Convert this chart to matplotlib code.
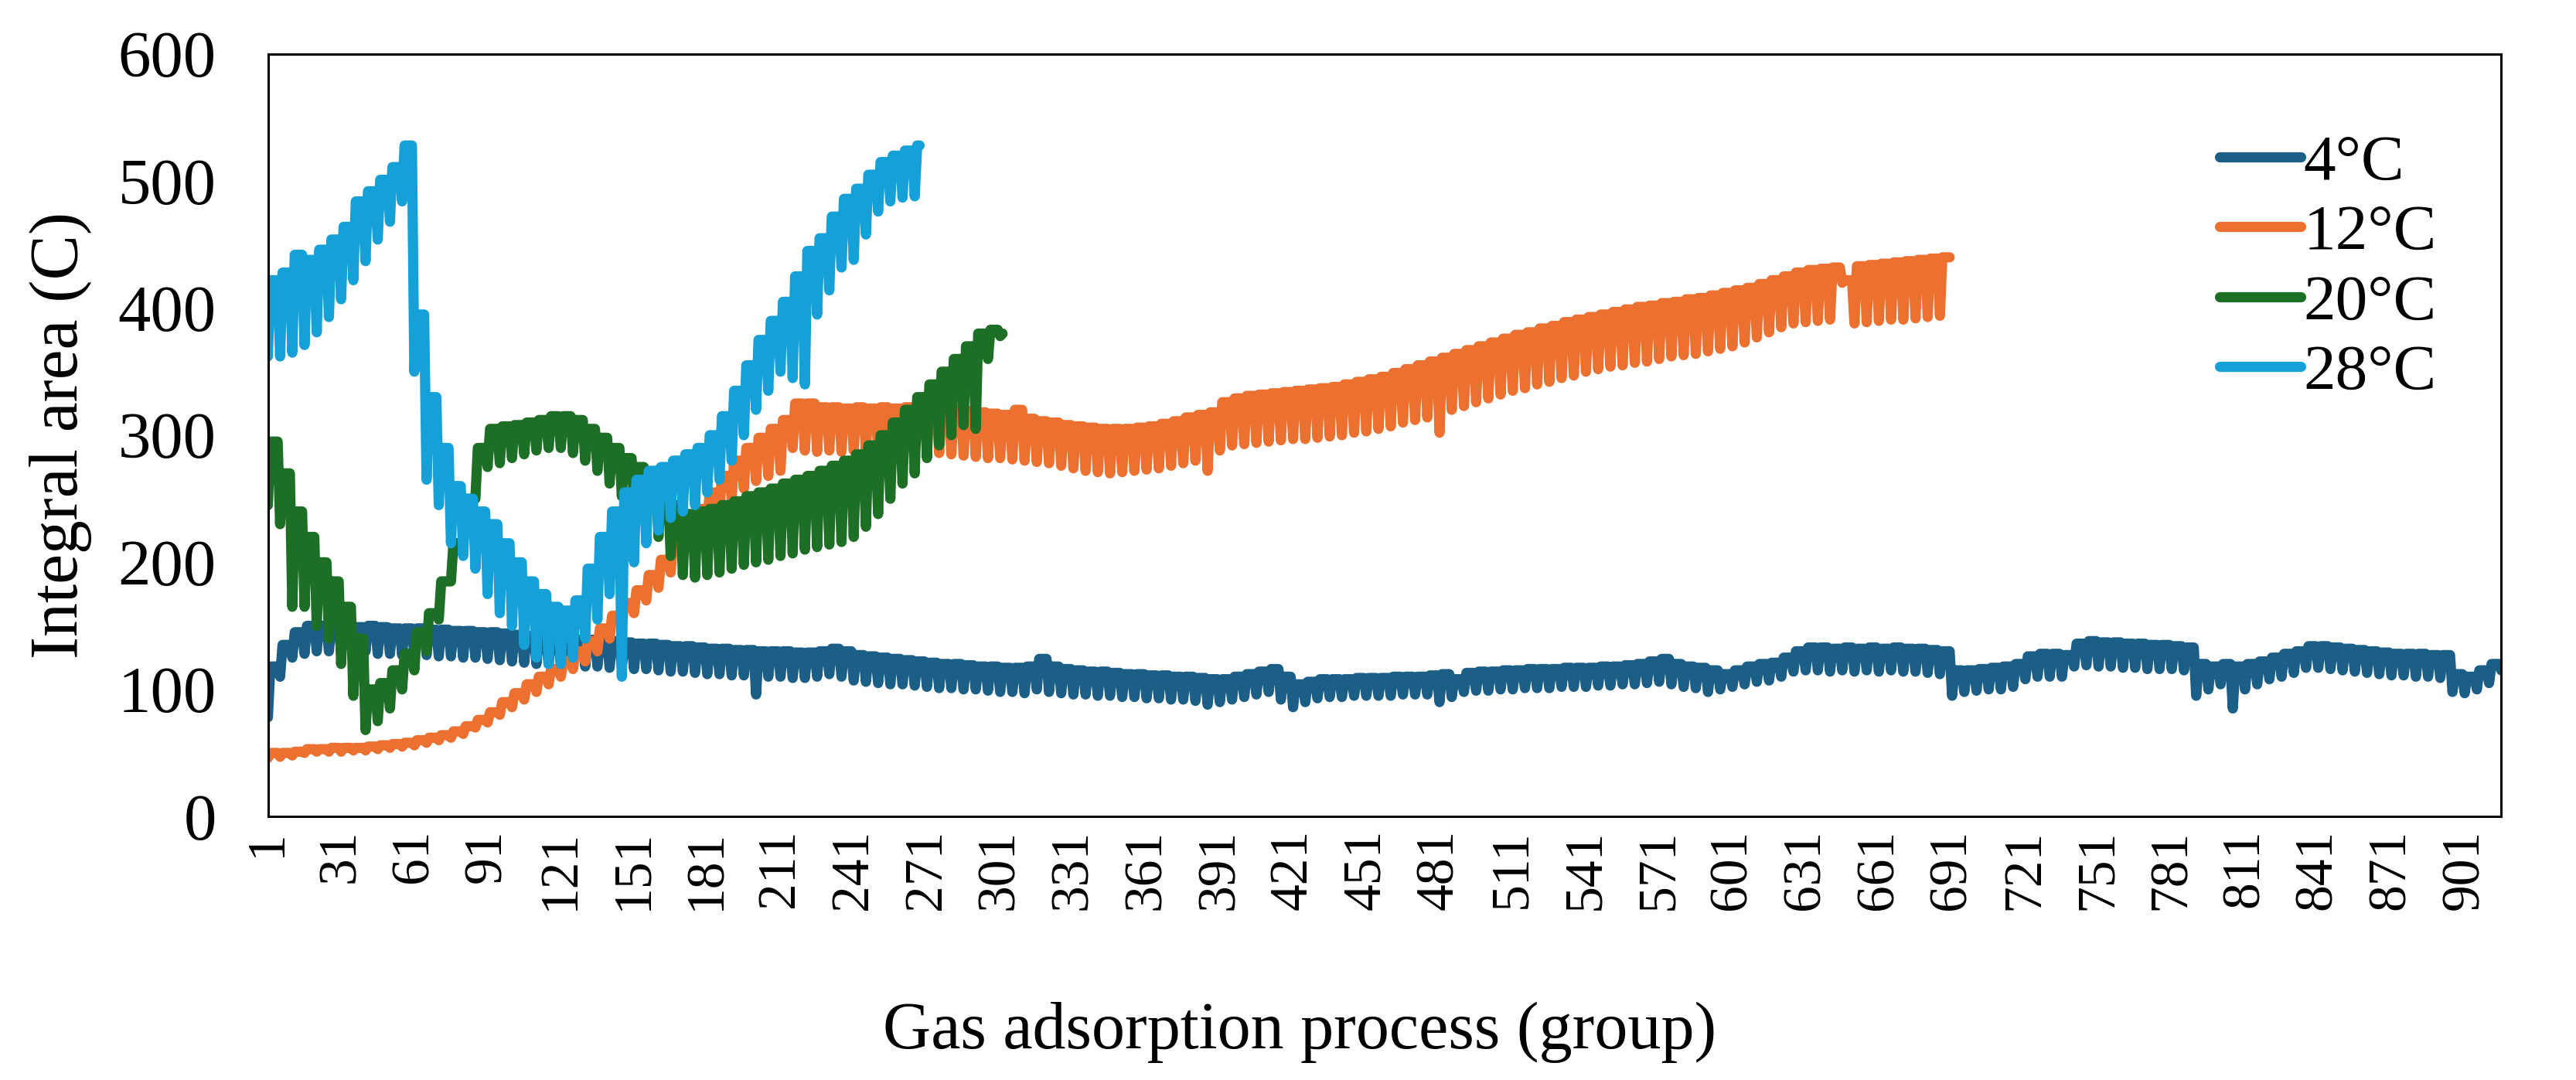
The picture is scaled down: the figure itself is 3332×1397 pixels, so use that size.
import numpy as np
import matplotlib
matplotlib.use("Agg")
import matplotlib.pyplot as plt

plt.rcParams['font.family'] = ['Liberation Serif', 'DejaVu Serif']

series_labels = ["4°C", "12°C", "20°C", "28°C"]
series_colors = ["#1B5E86", "#EC7030", "#1E6F26", "#15A0D8"]
n_groups = [916, 690, 302, 268]
points_per_cycle = 5

# ---- per-cycle peak (top) and trough (bottom) values ----
c4_top = [118, 135, 145, 150, 150, 150, 150, 149, 150, 149, 148, 148,
          148, 147, 147, 146, 146, 145, 145, 144, 143, 142, 141, 140,
          140, 139, 139, 138, 138, 137, 136, 136, 135, 134, 134, 133,
          132, 132, 131, 131, 130, 130, 130, 129, 129, 130, 132, 130,
          127, 126, 125, 124, 123, 122, 121, 120, 120, 119, 118, 118,
          117, 117, 118, 124, 118, 116, 115, 114, 114, 113, 112, 112,
          111, 111, 110, 110, 109, 108, 108, 110, 112, 114, 116, 110,
          104, 106, 108, 108, 108, 109, 109, 109, 110, 110, 110, 111,
          112, 108, 113, 114, 114, 115, 115, 116, 116, 116, 117, 117,
          117, 118, 118, 119, 120, 122, 124, 120, 118, 117, 115, 112,
          115, 118, 120, 121, 125, 130, 133, 133, 132, 133, 132, 133,
          132, 133, 132, 132, 131, 130, 115, 115, 116, 117, 118, 120,
          126, 128, 128, 127, 136, 138, 137, 137, 136, 136, 135, 135,
          134, 133, 120, 118, 120, 118, 120, 122, 125, 128, 130, 134,
          134, 133, 132, 131, 130, 129, 128, 128, 128, 127, 127, 112,
          110, 115, 120, 130]
c4_bot = [78, 110, 125, 128, 130, 130, 130, 129, 130, 128, 128, 127,
          127, 127, 126, 126, 125, 125, 124, 123, 122, 121, 120, 120,
          119, 119, 118, 118, 117, 117, 116, 116, 115, 114, 114, 113,
          112, 112, 111, 111, 96, 110, 110, 109, 109, 110, 112, 110,
          107, 106, 105, 104, 104, 103, 102, 101, 101, 100, 100, 99,
          98, 98, 97, 100, 98, 97, 96, 96, 95, 95, 94, 94,
          93, 93, 92, 92, 91, 88, 90, 92, 94, 96, 98, 92,
          86, 90, 93, 94, 94, 95, 95, 95, 95, 96, 96, 96,
          90, 94, 98, 99, 99, 100, 100, 101, 101, 101, 102, 102,
          102, 103, 103, 104, 104, 105, 106, 104, 102, 101, 98, 100,
          102, 104, 106, 107, 110, 114, 115, 115, 114, 115, 114, 115,
          114, 115, 114, 114, 113, 112, 95, 98, 99, 100, 100, 102,
          108, 110, 110, 110, 118, 119, 118, 118, 117, 117, 116, 116,
          116, 115, 95, 100, 104, 85, 100, 104, 108, 110, 113, 117,
          117, 116, 115, 114, 113, 112, 111, 111, 110, 110, 109, 98,
          97, 100, 105, 115]

c12_top = [50, 50, 51, 53, 53, 54, 54, 54, 55, 56, 57, 58,
           60, 62, 64, 67, 71, 76, 82, 90, 97, 104, 110, 116,
           122, 130, 138, 148, 158, 168, 178, 190, 202, 215, 228, 242,
           255, 268, 280, 290, 298, 305, 312, 325, 325, 322, 322, 321,
           322, 321, 322, 321, 322, 321, 321, 320, 320, 319, 318, 317,
           316, 320, 313, 311, 310, 308, 307, 306, 305, 305, 305, 306,
           307, 309, 311, 314, 316, 318, 326, 329, 331, 332, 333, 334,
           335, 336, 337, 338, 340, 342, 344, 346, 349, 352, 355, 358,
           361, 364, 367, 370, 373, 376, 379, 381, 384, 386, 389, 391,
           393, 395, 397, 399, 401, 402, 404, 405, 407, 408, 410, 412,
           414, 416, 419, 422, 425, 428, 430, 431, 432, 422, 433, 434,
           435, 436, 437, 438, 439, 440]
c12_bot = [46, 47, 48, 50, 51, 51, 51, 52, 52, 53, 54, 55,
           56, 58, 60, 62, 65, 70, 74, 80, 86, 92, 98, 104,
           110, 116, 122, 130, 140, 150, 160, 170, 180, 192, 205, 218,
           230, 240, 250, 258, 264, 268, 272, 290, 288, 287, 288, 287,
           288, 287, 288, 288, 289, 287, 287, 286, 285, 284, 283, 282,
           282, 281, 280, 279, 278, 276, 274, 272, 271, 270, 271, 272,
           273, 274, 276, 278, 280, 272, 288, 292, 293, 294, 295, 296,
           297, 297, 298, 299, 300, 302, 303, 305, 307, 310, 312, 314,
           302, 320, 323, 326, 329, 332, 335, 337, 340, 342, 345, 347,
           350, 352, 354, 355, 357, 358, 360, 362, 363, 364, 366, 368,
           370, 373, 377, 381, 385, 388, 389, 390, 391, 420, 388, 389,
           390, 391, 391, 392, 393, 394]

c20_top = [295, 270, 240, 220, 200, 185, 165, 140, 100, 105, 115, 128,
           145, 160, 185, 215, 250, 290, 305, 307, 308, 310, 312, 315,
           315, 312, 305, 298, 290, 282, 275, 265, 255, 245, 238, 240,
           242, 245, 248, 252, 255, 258, 262, 265, 268, 272, 276, 280,
           285, 292, 300, 310, 320, 330, 340, 350, 360, 370, 380, 383,
           380]
c20_bot = [245, 230, 165, 165, 150, 140, 120, 95, 68, 75, 85, 100,
           115, 130, 155, 185, 215, 250, 275, 278, 282, 285, 288, 290,
           290, 286, 280, 272, 262, 252, 245, 235, 220, 205, 190, 188,
           190, 192, 195, 198, 200, 202, 205, 207, 210, 212, 214, 216,
           220, 228, 238, 250, 262, 270, 282, 292, 300, 308, 305, 360,
           378]

c28_top = [422, 428, 442, 438, 446, 454, 464, 484, 492, 501, 511, 528,
           395, 330, 290, 260, 250, 240, 230, 215, 200, 185, 175, 165,
           162, 170, 195, 220, 240, 255, 265, 272, 275, 280, 285, 290,
           300, 315, 335, 355, 375, 390, 405, 425, 445, 455, 472, 486,
           494, 505, 515, 520, 524, 528]
c28_bot = [362, 362, 365, 371, 381, 393, 407, 422, 437, 454, 468, 484,
           350, 265, 245, 215, 205, 195, 175, 160, 150, 135, 125, 120,
           120, 125, 140, 155, 175, 110, 200, 215, 225, 235, 240, 245,
           255, 265, 280, 300, 320, 335, 350, 345, 340, 395, 414, 432,
           438, 458, 476, 484, 487, 488]

x_tick_labels = [str(v) for v in range(1, 902, 30)]
y_ticks = [0, 100, 200, 300, 400, 500, 600]


def expand(tops, bots, n):
    vals = []
    for t, b in zip(tops, bots):
        vals.append(b)
        vals.extend([t] * (points_per_cycle - 1))
    return np.array(vals[:n], dtype=float)


series_tops = [c4_top, c12_top, c20_top, c28_top]
series_bots = [c4_bot, c12_bot, c20_bot, c28_bot]

LW = 9.5

fig = plt.figure(figsize=(33.32, 13.97), dpi=100)
ax = fig.add_axes([0.104, 0.244, 0.867, 0.706])

for lab, col, tops, bots, n in zip(series_labels, series_colors, series_tops,
                                   series_bots, n_groups):
    y = expand(tops, bots, n)
    x = np.arange(1, len(y) + 1)
    ax.plot(x, y, color=col, lw=LW, solid_joinstyle='round',
            solid_capstyle='round', label=lab)

ax.set_xlim(1, 916)
ax.set_ylim(0, 600)
ax.set_yticks(y_ticks)
ax.set_yticklabels([str(v) for v in y_ticks], fontsize=61)
ax.set_xticks(list(range(1, 902, 30)))
ax.set_xticklabels(x_tick_labels, rotation=90, fontsize=50)
ax.tick_params(axis='y', length=0, pad=48)
ax.tick_params(axis='x', length=0, pad=12)
for s in ax.spines.values():
    s.set_linewidth(2.2)
    s.set_color('black')

ax.set_ylabel("Integral area (C)", fontsize=63, labelpad=24)
ax.set_xlabel("Gas adsorption process (group)", fontsize=62)
ax.xaxis.set_label_coords(0.462, -0.243)

leg = ax.legend(loc='upper left', bbox_to_anchor=(0.874, 0.895), frameon=False,
                fontsize=60, handlelength=1.25, handletextpad=0.05,
                labelspacing=0.17, borderaxespad=0, borderpad=0)
for h in leg.get_lines():
    h.set_linewidth(LW)

fig.savefig("out.png", dpi=100, facecolor='white')
